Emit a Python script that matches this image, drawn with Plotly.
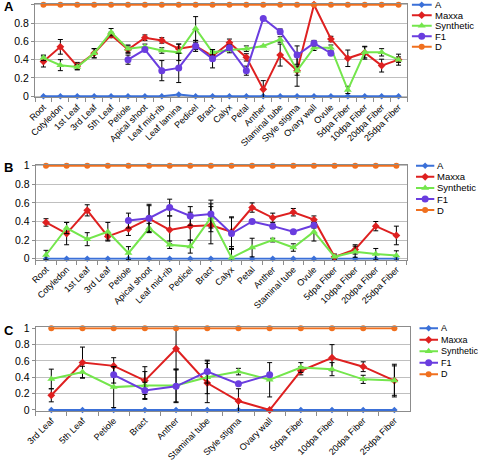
import plotly.graph_objects as go

# ---------------- data ----------------
series_names = ["A", "Maxxa", "Synthetic", "F1", "D"]

catA = ["Root", "Cotyledon", "1st Leaf", "3rd Leaf", "5th Leaf", "Petiole", "Apical shoot",
        "Leaf mid-rib", "Leaf lamina", "Pedicel", "Bract", "Calyx", "Petal", "Anther",
        "Staminal tube", "Style stigma", "Ovary wall", "Ovule", "5dpa Fiber", "10dpa Fiber",
        "20dpa Fiber", "25dpa Fiber"]
aA = [0, 0, 0, 0, 0, 0, 0, 0, 0.02, 0, 0, 0, 0, 0, 0, 0, 0, 0, 0, 0, 0, 0]
maxxaA = [0.38, 0.54, 0.33, 0.47, 0.67, 0.51, 0.64, 0.61, 0.52, 0.55, 0.44, 0.585, 0.425, 0.076,
          0.45, 0.28, 1.0, 0.625, 0.415, 0.476, 0.335, 0.40]
maxxaA_err = [0.06, 0.08, 0.04, 0.05, 0.03, 0.04, 0.03, 0.03, 0.05, 0.04, 0.05, 0.04, 0.04, 0.095,
              0.12, 0.17, None, 0.03, 0.09, 0.07, 0.07, 0.06]
synA = [0.42, 0.34, 0.32, 0.47, 0.70, 0.52, 0.54, 0.50, 0.48, 0.74, 0.48, 0.505, 0.52, 0.55,
        0.62, 0.28, 0.53, 0.53, 0.07, 0.48, 0.48, 0.40]
synA_err = [0.03, 0.06, 0.03, 0.05, 0.04, 0.04, 0.03, 0.03, 0.09, 0.13, 0.03, 0.03, 0.03, None,
            0.03, 0.05, 0.03, 0.03, 0.04, 0.06, 0.04, 0.03]
f1A = [None, None, None, None, None, 0.40, 0.51, 0.28, 0.31, 0.55, 0.41, 0.53, 0.28, 0.85,
       0.705, 0.45, 0.58, 0.47, None, None, None, None]
f1A_err = [None, None, None, None, None, 0.05, 0.02, 0.11, 0.16, 0.06, 0.10, 0.03, 0.05, None,
           0.03, 0.10, 0.03, None, None, None, None, None]
dA = [1, 1, 1, 1, 1, 1, 1, 1, 1, 1, 1, 1, 1, 1, 1, 1, 1, 1, 1, 1, 1, 1]

catB = ["Root", "Cotyledon", "1st Leaf", "3rd Leaf", "Petiole", "Apical shoot", "Leaf mid-rib",
        "Pedicel", "Bract", "Calyx", "Petal", "Anther", "Staminal tube", "Ovule", "5dpa Fiber",
        "10dpa Fiber", "20dpa Fiber", "25dpa Fiber"]
aB = [0, 0, 0, 0, 0, 0, 0, 0, 0, 0, 0, 0, 0, 0, 0, 0, 0, 0]
maxxaB = [0.39, 0.27, 0.52, 0.24, 0.32, 0.43, 0.31, 0.35, 0.36, 0.29, 0.55, 0.44, 0.50, 0.42,
          0.02, 0.10, 0.35, 0.25]
maxxaB_err = [0.04, 0.12, 0.06, 0.04, 0.07, 0.14, 0.15, 0.15, 0.20, 0.16, 0.05, 0.05, 0.04, 0.04,
              0.03, 0.05, 0.05, 0.10]
synB = [0.04, 0.33, 0.21, 0.29, 0.06, 0.33, 0.15, 0.13, 0.44, 0.01, 0.12, 0.20, 0.12, 0.29,
        0.02, 0.075, 0.05, 0.035]
synB_err = [0.05, 0.06, 0.07, 0.10, 0.07, 0.05, 0.04, 0.07, 0.15, 0.10, 0.10, 0.02, 0.04, 0.10,
            0.01, 0.06, 0.06, 0.05]
f1B = [None, None, None, None, 0.41, 0.435, 0.55, 0.46, 0.48, 0.27, 0.40, 0.35, 0.29, 0.36,
       None, None, None, None]
f1B_err = [None, None, None, None, 0.08, 0.15, 0.09, 0.10, 0.15, 0.17, 0.02, 0.02, 0.02, 0.03,
           None, None, None, None]
dB = [1, 1, 1, 1, 1, 1, 1, 1, 1, 1, 1, 1, 1, 1, 1, 1, 1, 1]

catC = ["3rd Leaf", "5th Leaf", "Petiole", "Bract", "Anther", "Staminal tube", "Style stigma",
        "Ovary wall", "5dpa Fiber", "10dpa Fiber", "20dpa Fiber", "25dpa Fiber"]
aC = [0, 0, 0, 0, 0, 0, 0, 0, 0, 0, 0, 0]
maxxaC = [0.18, 0.58, 0.54, 0.36, 0.75, 0.33, 0.11, 0.0, 0.48, 0.64, 0.53, 0.36]
maxxaC_err = [0.08, 0.19, 0.10, 0.17, 0.25, 0.24, 0.15, None, 0.05, 0.16, 0.06, 0.20]
synC = [0.38, 0.465, 0.28, 0.30, 0.30, 0.40, 0.47, 0.37, 0.52, 0.50, 0.375, 0.36]
synC_err = [0.12, 0.07, 0.25, 0.17, 0.20, 0.20, 0.04, 0.21, 0.06, 0.08, 0.05, 0.18]
f1C = [None, None, 0.43, 0.24, 0.29, 0.47, 0.32, 0.43, None, None, None, None]
f1C_err = [None, None, 0.10, 0.10, 0.20, 0.14, None, None, None, None, None, None]
dC = [1, 1, 1, 1, 1, 1, 1, 1, 1, 1, 1, 1]

ytick_vals = [0, 0.2, 0.4, 0.6, 0.8, 1]
ytick_text = ["0", "0.2", "0.4", "0.6", "0.8", "1"]

# ---------------- style ----------------
W, H = 478, 461
colors = {"A": "#3b70d8", "Maxxa": "#de2020", "Synthetic": "#74e64c", "F1": "#6a3ddf", "D": "#f0701f"}
symbols = {"A": "diamond", "Maxxa": "diamond", "Synthetic": "triangle-up", "F1": "circle", "D": "circle"}
msize = {"A": 5, "Maxxa": 6, "Synthetic": 7, "F1": 7, "D": 6}
FONT = "Liberation Sans, Arial, sans-serif"
PAD = 0.012

panels = [
    dict(key=1, cats=catA, data=[aA, maxxaA, synA, f1A, dA],
         errs=[None, maxxaA_err, synA_err, f1A_err, None],
         geom=(35, 407, 96.3, 4.7), label="A", label_y=7,
         leg_x=(411.7, 431.7), leg_y0=4.7, leg_dy=10.5, leg_font=9.5),
    dict(key=2, cats=catB, data=[aB, maxxaB, synB, f1B, dB],
         errs=[None, maxxaB_err, synB_err, f1B_err, None],
         geom=(35.7, 406.7, 258.7, 165.7), label="B", label_y=167,
         leg_x=(416, 434.3), leg_y0=165.7, leg_dy=11.1, leg_font=9.5),
    dict(key=3, cats=catC, data=[aC, maxxaC, synC, f1C, dC],
         errs=[None, maxxaC_err, synC_err, f1C_err, None],
         geom=(35.7, 410, 410, 328.3), label="C", label_y=330,
         leg_x=(419.3, 438), leg_y0=328.3, leg_dy=11.5, leg_font=9),
]


def ax_names(n):
    s = "" if n == 1 else str(n)
    return "xaxis" + s, "yaxis" + s, "x" + s, "y" + s


def clamp(v):
    return min(1.0, max(0.0, v))


fig = go.Figure()
layout = dict(width=W, height=H, autosize=False, margin=dict(l=0, r=0, t=0, b=0, pad=0),
              paper_bgcolor="white", plot_bgcolor="white", showlegend=False,
              font=dict(family=FONT, color="#000000"))
annotations = []

for p in panels:
    k = p["key"]
    xl, xr, y0, y1 = p["geom"]
    unit = y0 - y1
    top = y1 - PAD * unit
    bot = y0 + PAD * unit
    xa, ya, xref, yref = ax_names(k)
    layout[xa] = dict(domain=[xl / W, xr / W], anchor=yref, type="category",
                      categoryorder="array", categoryarray=p["cats"],
                      range=[-0.5, len(p["cats"]) - 0.5],
                      tickangle=-45, tickfont=dict(size=9, family=FONT, color="#000"),
                      showline=True, linecolor="#8c8c8c", linewidth=1, mirror=True,
                      ticks="outside", tickson="boundaries", ticklen=4, tickcolor="#8c8c8c",
                      showgrid=False, zeroline=False, fixedrange=True, automargin=False)
    layout[ya] = dict(domain=[clamp(1 - bot / H), clamp(1 - top / H)], anchor=xref,
                      range=[-PAD, 1 + PAD], tickmode="array", tickvals=ytick_vals,
                      ticktext=ytick_text, tickfont=dict(size=10.5, family=FONT, color="#000"),
                      showline=True, linecolor="#8c8c8c", linewidth=1, mirror=True,
                      ticks="outside", ticklen=3, tickcolor="#8c8c8c",
                      showgrid=True, gridcolor="#bfbfbf", gridwidth=1, zeroline=False,
                      fixedrange=True, automargin=False)
    for name, vals, err in zip(series_names, p["data"], p["errs"]):
        tr = dict(x=p["cats"], y=vals, mode="lines+markers", name=name,
                  xaxis=xref, yaxis=yref, cliponaxis=False,
                  line=dict(color=colors[name], width=2),
                  marker=dict(symbol=symbols[name], size=msize[name], color=colors[name]))
        if err is not None:
            tr["error_y"] = dict(type="data", array=err, visible=True, color="#000000",
                                 thickness=1, width=2.5)
        fig.add_trace(go.Scatter(**tr))
    annotations.append(dict(text="<b>" + p["label"] + "</b>", xref="paper", yref="paper",
                            x=2 / W, y=1 - p["label_y"] / H, xanchor="left", yanchor="middle",
                            showarrow=False, font=dict(size=13, family=FONT, color="#000")))

    # custom legend on its own small hidden axes (pixel units)
    lk = k + 3
    lxa, lya, lxref, lyref = ax_names(lk)
    lx0, lx1 = p["leg_x"]
    ly_top = max(p["leg_y0"] - 4, 0.0)
    ly_bot = p["leg_y0"] + 4 * p["leg_dy"] + 4
    layout[lxa] = dict(domain=[lx0 / W, 1.0], range=[lx0, W], visible=False,
                       fixedrange=True, anchor=lyref)
    layout[lya] = dict(domain=[clamp(1 - ly_bot / H), clamp(1 - ly_top / H)],
                       range=[ly_bot, ly_top], visible=False, fixedrange=True, anchor=lxref)
    for i, name in enumerate(series_names):
        ly = p["leg_y0"] + i * p["leg_dy"]
        fig.add_trace(go.Scatter(x=[lx0, lx1], y=[ly, ly],
                                 mode="lines", xaxis=lxref, yaxis=lyref,
                                 hoverinfo="skip", cliponaxis=False,
                                 line=dict(color=colors[name], width=2)))
        fig.add_trace(go.Scatter(x=[(lx0 + lx1) / 2], y=[ly],
                                 mode="markers", xaxis=lxref, yaxis=lyref,
                                 hoverinfo="skip", cliponaxis=False,
                                 marker=dict(symbol=symbols[name], color=colors[name],
                                             size=msize[name])))
        annotations.append(dict(text=name, xref="paper", yref="paper",
                                x=(lx1 + 1) / W, y=1 - ly / H,
                                xanchor="left", yanchor="middle", showarrow=False,
                                font=dict(size=p["leg_font"], family=FONT, color="#000")))

layout["annotations"] = annotations
fig.update_layout(**layout)
fig.write_html("out.html", config={"displayModeBar": False},
               post_script="document.body.style.margin='0';document.body.style.overflow='hidden';")
